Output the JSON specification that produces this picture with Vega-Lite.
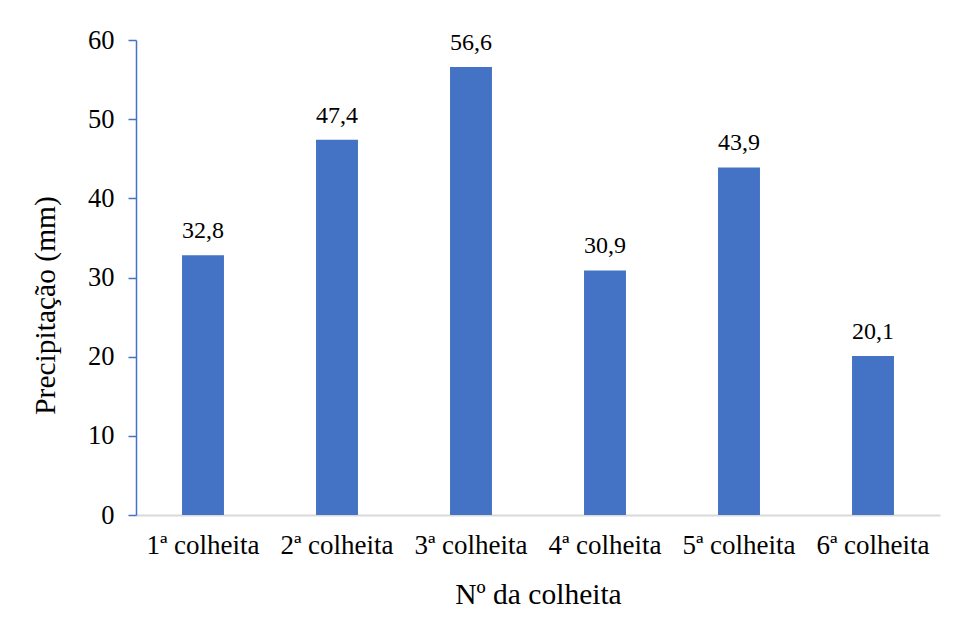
{
  "$schema": "https://vega.github.io/schema/vega-lite/v6.json",
  "autosize": "none",
  "width": 804,
  "height": 475,
  "padding": {"left": 136, "top": 40, "right": 17, "bottom": 115},
  "background": "white",
  "data": {
    "values": [
      {"colheita": "1ª colheita", "precipitacao": 32.8},
      {"colheita": "2ª colheita", "precipitacao": 47.4},
      {"colheita": "3ª colheita", "precipitacao": 56.6},
      {"colheita": "4ª colheita", "precipitacao": 30.9},
      {"colheita": "5ª colheita", "precipitacao": 43.9},
      {"colheita": "6ª colheita", "precipitacao": 20.1}
    ]
  },
  "encoding": {
    "x": {
      "field": "colheita",
      "type": "nominal",
      "sort": null,
      "scale": {"paddingInner": 0.687, "paddingOuter": 0.3435},
      "axis": {
        "title": "Nº da colheita",
        "labelAngle": 0,
        "labelFontSize": 27,
        "labelPadding": 17,
        "titleFontSize": 29.5,
        "titlePadding": 22,
        "ticks": false,
        "domainColor": "#D9D9D9",
        "domainWidth": 2
      }
    },
    "y": {
      "field": "precipitacao",
      "type": "quantitative",
      "scale": {"domain": [0, 60]},
      "axis": {
        "title": "Precipitação (mm)",
        "titleY": 265,
        "values": [0, 10, 20, 30, 40, 50, 60],
        "grid": false,
        "labelFontSize": 26.5,
        "labelPadding": 14,
        "tickSize": 8,
        "tickColor": "#4472C4",
        "tickWidth": 1.5,
        "domainColor": "#4472C4",
        "domainWidth": 1.5,
        "titleFontSize": 29.5,
        "titlePadding": 27
      }
    }
  },
  "layer": [
    {
      "mark": {"type": "bar", "color": "#4472C4"}
    },
    {
      "mark": {"type": "text", "baseline": "alphabetic", "dy": -17, "fontSize": 24, "color": "black"},
      "encoding": {
        "text": {"field": "precipitacao", "type": "quantitative", "format": ".1f"}
      }
    }
  ],
  "config": {
    "locale": {
      "number": {"decimal": ",", "thousands": ".", "grouping": [3], "currency": ["", ""]}
    },
    "font": "Liberation Serif",
    "view": {"stroke": null},
    "axis": {
      "labelColor": "black",
      "titleColor": "black",
      "titleFontWeight": "normal",
      "labelFont": "Liberation Serif",
      "titleFont": "Liberation Serif"
    },
    "text": {"font": "Liberation Serif"}
  }
}
